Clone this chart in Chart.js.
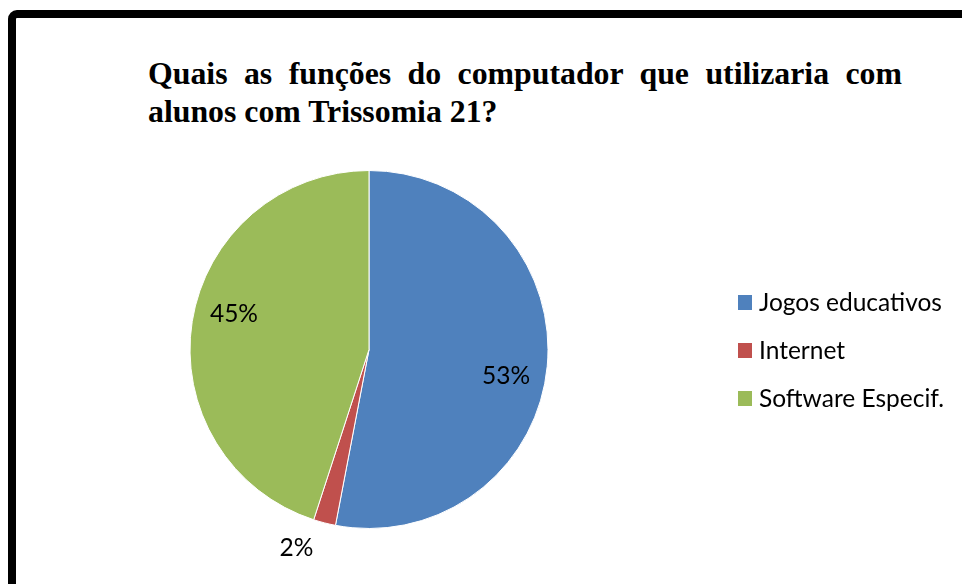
<!DOCTYPE html>
<html>
<head>
<meta charset="utf-8">
<script src="https://cdn.jsdelivr.net/npm/chart.js@4/dist/chart.umd.min.js"></script>
<style>
  html, body { margin: 0; padding: 0; background: #ffffff; overflow: hidden; }
  #stage { position: relative; width: 962px; height: 584px; overflow: hidden; background: #fff; }
  #frame { position: absolute; left: 8px; top: 10px; width: 2000px; height: 2000px;
           border: 8px solid #000; border-radius: 9px; box-sizing: border-box; }
  #title { position: absolute; left: 148px; top: 55px; width: 754px;
           font-family: "Liberation Serif", "Times New Roman", serif; font-weight: bold;
           font-size: 31.8px; line-height: 38px; color: #000;
           text-align: justify; text-align-last: left; }
  #chart { position: absolute; left: 0; top: 0; }
</style>
</head>
<body>
<div id="stage">
  <div id="frame"></div>
  <div id="title">Quais as funções do computador que utilizaria com alunos com Trissomia 21?</div>
  <canvas id="chart" width="962" height="584"></canvas>
</div>
<script>
// ---- data ----
const chartTitle = 'Quais as funções do computador que utilizaria com alunos com Trissomia 21?';
const categories = ['Jogos educativos', 'Internet', 'Software Especif.'];
const values = [53, 2, 45];
const percentLabels = ['53%', '2%', '45%'];
const sliceColors = ['#4F81BD', '#C0504D', '#9BBB59'];

document.getElementById('title').textContent = chartTitle;

const labelFont = '24.5px Lato, "Open Sans", sans-serif';

const sliceLabels = {
  id: 'sliceLabels',
  afterDatasetsDraw(chart) {
    const ctx = chart.ctx;
    const meta = chart.getDatasetMeta(0);
    const total = values.reduce((a, b) => a + b, 0);
    ctx.save();
    ctx.font = labelFont;
    ctx.fillStyle = '#000';
    ctx.textAlign = 'center';
    ctx.textBaseline = 'middle';
    meta.data.forEach((arc, i) => {
      const p = arc.getProps(['x', 'y', 'startAngle', 'endAngle', 'outerRadius'], true);
      const mid = (p.startAngle + p.endAngle) / 2 + 0.1;
      const small = values[i] / total < 0.05;
      const d = small ? p.outerRadius + 32 : p.outerRadius * 0.78;
      ctx.fillText(percentLabels[i], p.x + Math.cos(mid) * d, p.y + Math.sin(mid) * d);
    });
    ctx.restore();
  }
};

const sideLegend = {
  id: 'sideLegend',
  afterDraw(chart) {
    const ctx = chart.ctx;
    const x0 = 738, y0 = 295, gap = 48;
    ctx.save();
    ctx.font = labelFont;
    ctx.textBaseline = 'alphabetic';
    ctx.textAlign = 'left';
    chart.data.labels.forEach((lab, i) => {
      const y = y0 + i * gap;
      ctx.fillStyle = chart.data.datasets[0].backgroundColor[i];
      ctx.fillRect(x0, y, 14, 15);
      ctx.fillStyle = '#000';
      ctx.fillText(lab, x0 + 21, y + 16);
    });
    ctx.restore();
  }
};

new Chart(document.getElementById('chart'), {
  type: 'pie',
  data: {
    labels: categories,
    datasets: [{
      data: values,
      backgroundColor: sliceColors,
      borderColor: '#ffffff',
      borderWidth: 1
    }]
  },
  options: {
    responsive: false,
    animation: false,
    layout: { padding: { left: 189, top: 170, right: 413, bottom: 55 } },
    plugins: {
      legend: { display: false },
      title: { display: false },
      tooltip: { enabled: false }
    }
  },
  plugins: [sliceLabels, sideLegend]
});
</script>
</body>
</html>
